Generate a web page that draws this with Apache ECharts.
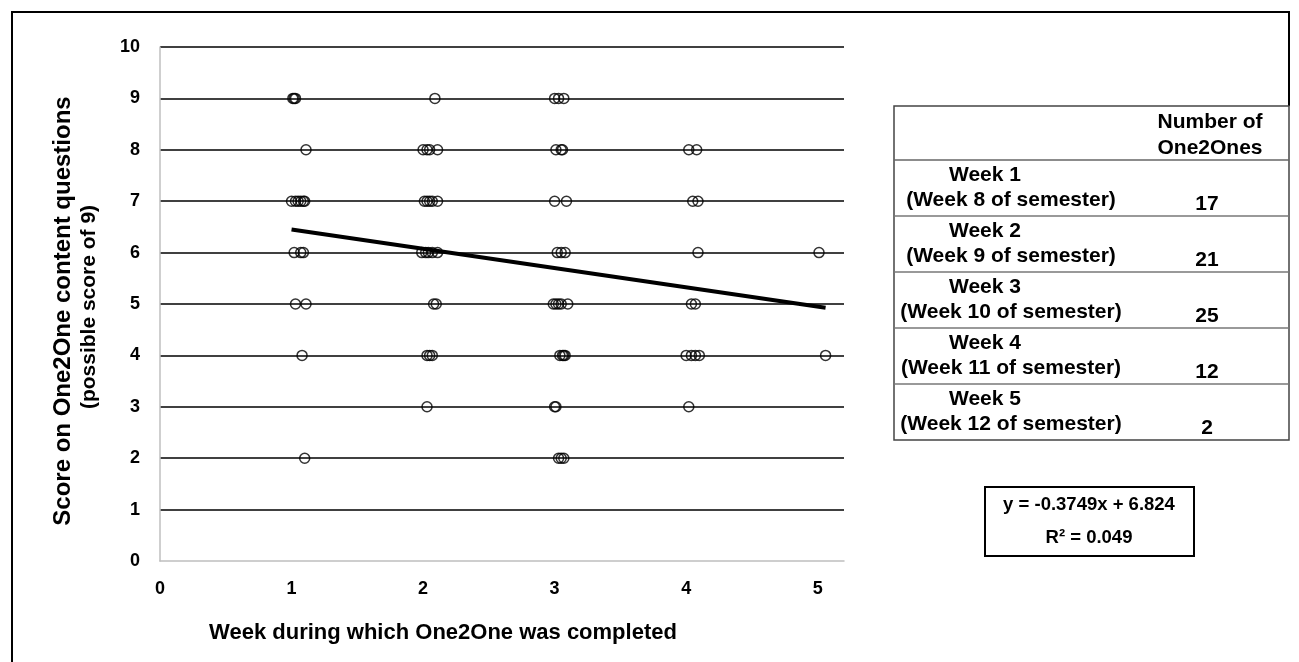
<!DOCTYPE html>
<html><head><meta charset="utf-8">
<script src="https://cdn.jsdelivr.net/npm/echarts@6/dist/echarts.min.js"></script>
<style>html,body{margin:0;padding:0;background:#fff}#c{width:1299px;height:662px}</style>
</head><body><div id="c"></div>
<script>
// ---- data ----
const weekX = [
  // week 1
  1.01,1.02,1.03, 1.11, 1.00,1.03,1.05,1.07,1.09,1.10, 1.02,1.07,1.09, 1.03,1.11, 1.08, 1.10,
  // week 2
  2.09, 2.00,2.03,2.05,2.11, 2.01,2.03,2.05,2.07,2.11, 1.99,2.02,2.04,2.07,2.11, 2.08,2.10, 2.03,2.05,2.07, 2.03,
  // week 3
  3.00,3.03,3.07, 3.01,3.05,3.06, 3.00,3.09, 3.02,3.05,3.08, 2.99,3.01,3.03,3.05,3.10, 3.04,3.06,3.07,3.08, 3.00,3.01, 3.03,3.05,3.07,
  // week 4
  4.02,4.08, 4.05,4.09, 4.09, 4.04,4.07, 4.00,4.04,4.07,4.10, 4.02,
  // week 5
  5.01, 5.06
];
const score = [
  9,9,9, 8, 7,7,7,7,7,7, 6,6,6, 5,5, 4, 2,
  9, 8,8,8,8, 7,7,7,7,7, 6,6,6,6,6, 5,5, 4,4,4, 3,
  9,9,9, 8,8,8, 7,7, 6,6,6, 5,5,5,5,5, 4,4,4,4, 3,3, 2,2,2,
  8,8, 7,7, 6, 5,5, 4,4,4,4, 3,
  6, 4
];
const xTicks = [0,1,2,3,4,5];
const yTicks = [0,1,2,3,4,5,6,7,8,9,10];
const slope = -0.3749, intercept = 6.824, r2 = 0.049;
const tableWeeks = ['Week 1','Week 2','Week 3','Week 4','Week 5'];
const tableSemester = ['(Week 8 of semester)','(Week 9 of semester)','(Week 10 of semester)','(Week 11 of semester)','(Week 12 of semester)'];
const tableCounts = [17,21,25,12,2];
const xTitle = 'Week during which One2One was completed';
const yTitle = 'Score on One2One content questions';
const ySub = '(possible score of 9)';

// ---- build ----
const points = weekX.map((x,i)=>[x, score[i]]);
const xMin = Math.min(...weekX), xMax = Math.max(...weekX);
const trend = [[xMin, slope*xMin+intercept],[xMax, slope*xMax+intercept]];

const F = 'Liberation Sans, Arial, sans-serif';
const graphics = [];
// outer frame
graphics.push({type:'polyline', shape:{points:[[12,700],[12,12],[1289,12],[1289,106]]}, style:{stroke:'#000', lineWidth:2, fill:null}, silent:true});
// table
const tL=894, tR=1289, tT=106, hB=160, rowH=56;
graphics.push({type:'rect', shape:{x:tL,y:tT,width:tR-tL,height:hB-tT+rowH*5}, style:{stroke:'#444',lineWidth:1.5,fill:null}, silent:true});
graphics.push({type:'line', shape:{x1:tL,y1:hB,x2:tR,y2:hB}, style:{stroke:'#666',lineWidth:1.5}, silent:true});
for(let i=1;i<5;i++){
  graphics.push({type:'line', shape:{x1:tL,y1:hB+rowH*i,x2:tR,y2:hB+rowH*i}, style:{stroke:'#777',lineWidth:1.5}, silent:true});
}
const TF = 'bold 21px '+F;
graphics.push({type:'text', x:1210, y:122, style:{text:'Number of', font:TF, fill:'#000', align:'center', verticalAlign:'middle'}, silent:true});
graphics.push({type:'text', x:1210, y:148, style:{text:'One2Ones', font:TF, fill:'#000', align:'center', verticalAlign:'middle'}, silent:true});
tableWeeks.forEach((w,i)=>{
  const top = hB + rowH*i;
  graphics.push({type:'text', x:985, y:top+15, style:{text:w, font:TF, fill:'#000', align:'center', verticalAlign:'middle'}, silent:true});
  graphics.push({type:'text', x:1011, y:top+40, style:{text:tableSemester[i], font:TF, fill:'#000', align:'center', verticalAlign:'middle'}, silent:true});
  graphics.push({type:'text', x:1207, y:top+44, style:{text:String(tableCounts[i]), font:TF, fill:'#000', align:'center', verticalAlign:'middle'}, silent:true});
});
// equation box
graphics.push({type:'rect', shape:{x:985,y:487,width:209,height:69}, style:{stroke:'#000',lineWidth:2,fill:'#fff'}, silent:true});
graphics.push({type:'text', x:1089, y:505, style:{text:'y = '+slope+'x + '+intercept, font:'bold 18.5px '+F, fill:'#000', align:'center', verticalAlign:'middle'}, silent:true});
graphics.push({type:'text', x:1089, y:538, style:{text:'R² = '+r2, font:'bold 18.5px '+F, fill:'#000', align:'center', verticalAlign:'middle'}, silent:true});
// axis titles
graphics.push({type:'text', x:443, y:633, style:{text:xTitle, font:'bold 22px '+F, fill:'#000', align:'center', verticalAlign:'middle'}, silent:true});
graphics.push({type:'text', x:63, y:311, rotation:Math.PI/2, style:{text:yTitle, font:'bold 24px '+F, fill:'#000', align:'center', verticalAlign:'middle'}, silent:true});
graphics.push({type:'text', x:89, y:307, rotation:Math.PI/2, style:{text:ySub, font:'bold 21px '+F, fill:'#000', align:'center', verticalAlign:'middle'}, silent:true});

const chart = echarts.init(document.getElementById('c'), null, {renderer:'canvas'});
chart.setOption({
  animation:false,
  backgroundColor:'#fff',
  grid:{left:160, right:455, top:47, bottom:101, containLabel:false},
  xAxis:{type:'value', min:0, max:5.2, interval:1,
    axisLine:{show:true, lineStyle:{color:'#bfbfbf', width:1.5}},
    axisTick:{show:false}, splitLine:{show:false},
    axisLabel:{margin:19, color:'#000', fontFamily:F, fontWeight:'bold', fontSize:18,
      formatter:v=> xTicks.includes(v)? String(v):''}},
  yAxis:{type:'value', min:0, max:10, interval:1,
    axisLine:{show:true, lineStyle:{color:'#bfbfbf', width:1.5}},
    axisTick:{show:false},
    splitLine:{show:true, showMinLine:false, lineStyle:{color:'#000', width:1.5}},
    axisLabel:{margin:20, color:'#000', fontFamily:F, fontWeight:'bold', fontSize:18,
      formatter:v=> yTicks.includes(v)? String(v):''}},
  series:[
    {type:'scatter', data:points, symbol:'circle', symbolSize:10,
     itemStyle:{color:'rgba(0,0,0,0)', borderColor:'#000', borderWidth:1.5}, z:3},
    {type:'line', data:trend, symbol:'none', lineStyle:{color:'#000', width:4}, z:4}
  ],
  graphic:graphics
});
</script></body></html>
